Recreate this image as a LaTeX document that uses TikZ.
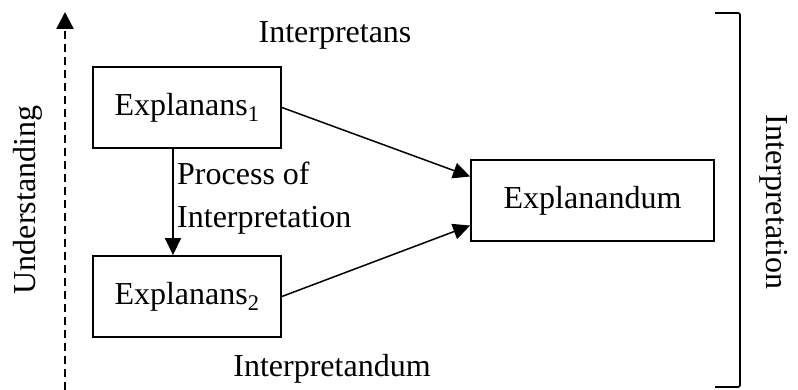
\documentclass[tikz,border=0pt]{standalone}
\usepackage{fontspec}
\setmainfont{Liberation Serif}
\usetikzlibrary{arrows.meta}
\begin{document}
\begin{tikzpicture}[x=1pt,y=1pt,
  every node/.style={font=\fontsize{32}{43}\selectfont, inner sep=0pt},
  termbox/.style={draw, line width=1.8pt, minimum height=81pt},
  flow/.style={line width=1.5pt, -{Triangle[length=17pt,width=16pt]}},
  axis/.style={line width=2.4pt, dash pattern=on 8pt off 5pt, -{Triangle[length=17pt,width=17pt]}}
]
\useasboundingbox (0,0) rectangle (798,390);

% boxes
\node[termbox, minimum width=188pt] (e1) at (187,282.5) {Explanans\textsubscript{1}};
\node[termbox, minimum width=188pt] (e2) at (187,93.5) {Explanans\textsubscript{2}};
\node[termbox, minimum width=243pt] (ed) at (592.5,189.5) {Explanandum};

% connectors
\draw[flow] (e1.east) -- ([yshift=24pt]ed.west);
\draw[flow] (e2.east) -- ([yshift=-25pt]ed.west);
\draw[flow] ([xshift=-14pt]e1.south) -- ([xshift=-14pt]e2.north);

\node[anchor=west, align=left] (proc) at (177,192) {Process of\\Interpretation};

% labels above and below
\node[anchor=base] (itans) at (335,347) {Interpretans};
\node[anchor=base] (itandum) at (332,13) {Interpretandum};

% understanding axis
\coordinate (ubot) at (65,0);
\coordinate (utop) at (65,378);
\draw[axis] (ubot) -- (utop);
\node[rotate=90] (und) at (28,190) {Understanding};

% interpretation bracket
\coordinate (bt0) at (715,377);
\coordinate (bt1) at (740,377);
\coordinate (bb1) at (740,3);
\coordinate (bb0) at (715,3);
\draw[line width=1.8pt, rounded corners=2pt] (bt0) -- (bt1) -- (bb1) -- (bb0);
\node[rotate=-90] (interp) at (774,188) {Interpretation};
\end{tikzpicture}
\end{document}
